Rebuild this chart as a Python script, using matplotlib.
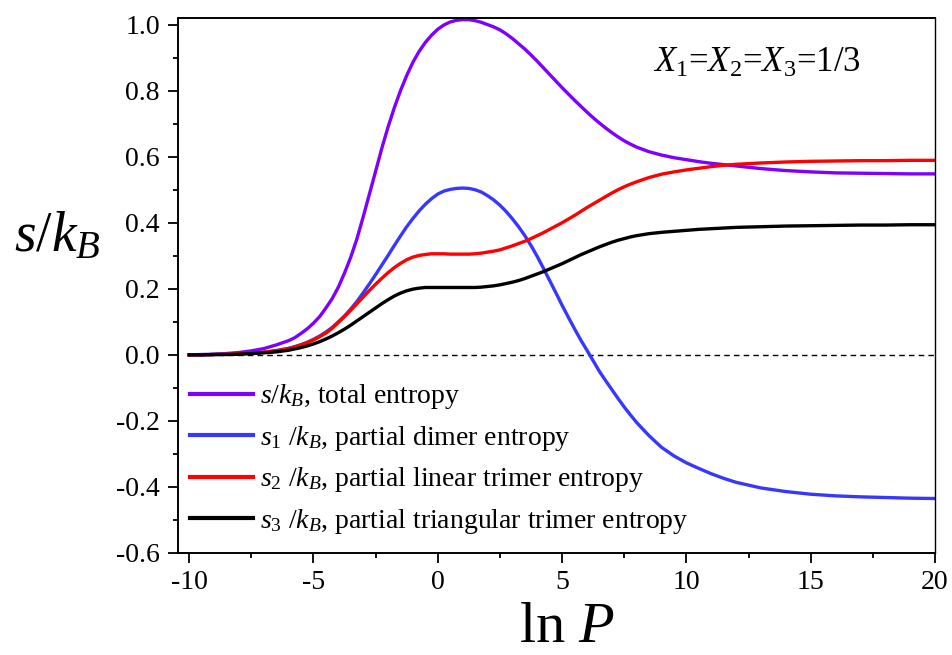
import numpy as np
import matplotlib
matplotlib.use('Agg')
import matplotlib.pyplot as plt
from matplotlib.ticker import MultipleLocator, FormatStrFormatter

plt.rcParams['font.family'] = ['Liberation Serif', 'DejaVu Serif']
plt.rcParams['mathtext.fontset'] = 'custom'
plt.rcParams['mathtext.rm'] = 'Liberation Serif'
plt.rcParams['mathtext.it'] = 'Liberation Serif:italic'
plt.rcParams['mathtext.bf'] = 'Liberation Serif:bold'
plt.rcParams['axes.unicode_minus'] = False

# ln P values the curves were read at
lnP = np.concatenate([np.arange(-10, -5.9, 0.5), np.arange(-5.75, 8.1, 0.25),
                      np.arange(8.5, 12.1, 0.5), np.arange(13, 20.1, 1.0)])

s_total = [0.000, 0.001, 0.002, 0.004, 0.007, 0.012, 0.019, 0.030, 0.043,
           0.052, 0.065, 0.079, 0.096, 0.116, 0.142, 0.170, 0.205, 0.248, 0.296, 0.352,
           0.418, 0.487, 0.556, 0.626, 0.690, 0.748, 0.800, 0.846, 0.886, 0.919, 0.946, 0.968,
           0.986, 0.999, 1.008, 1.013, 1.015, 1.015, 1.012, 1.007, 1.000, 0.993, 0.984, 0.972,
           0.958, 0.942, 0.926, 0.908, 0.889, 0.869, 0.849, 0.829, 0.809, 0.790, 0.771, 0.753,
           0.735, 0.718, 0.702, 0.687, 0.673, 0.660, 0.648, 0.638, 0.629,
           0.615, 0.605, 0.597, 0.591, 0.585, 0.580, 0.576, 0.572,
           0.564, 0.558, 0.554, 0.551, 0.550, 0.549, 0.548, 0.548]

s_dimer = [0.000, 0.000, 0.001, 0.002, 0.003, 0.005, 0.008, 0.013, 0.020,
           0.025, 0.031, 0.038, 0.047, 0.057, 0.069, 0.083, 0.100, 0.118, 0.139, 0.162,
           0.188, 0.215, 0.243, 0.272, 0.301, 0.331, 0.360, 0.388, 0.413, 0.436, 0.456, 0.473,
           0.487, 0.496, 0.501, 0.504, 0.505, 0.504, 0.500, 0.493, 0.482, 0.469, 0.453, 0.434,
           0.412, 0.388, 0.361, 0.331, 0.298, 0.262, 0.225, 0.188, 0.150, 0.114, 0.079, 0.045,
           0.014, -0.018, -0.050, -0.078, -0.105, -0.132, -0.158, -0.182, -0.205,
           -0.245, -0.280, -0.306, -0.327, -0.344, -0.360, -0.374, -0.386,
           -0.403, -0.414, -0.422, -0.427, -0.430, -0.432, -0.434, -0.435]

s_linear = [0.000, 0.000, 0.001, 0.002, 0.003, 0.005, 0.008, 0.012, 0.019,
            0.024, 0.030, 0.037, 0.045, 0.055, 0.066, 0.080, 0.098, 0.116, 0.135, 0.155,
            0.175, 0.195, 0.214, 0.232, 0.249, 0.264, 0.277, 0.288, 0.296, 0.301, 0.304, 0.306,
            0.306, 0.306, 0.305, 0.305, 0.305, 0.305, 0.306, 0.308, 0.311, 0.314, 0.318, 0.324,
            0.330, 0.337, 0.344, 0.352, 0.361, 0.370, 0.380, 0.390, 0.400, 0.411, 0.422, 0.434,
            0.446, 0.457, 0.468, 0.479, 0.490, 0.500, 0.509, 0.517, 0.524,
            0.537, 0.547, 0.554, 0.560, 0.565, 0.570, 0.574, 0.577,
            0.581, 0.584, 0.586, 0.587, 0.588, 0.588, 0.589, 0.589]

s_triang = [0.000, 0.000, 0.001, 0.001, 0.002, 0.004, 0.006, 0.009, 0.014,
            0.018, 0.022, 0.027, 0.033, 0.040, 0.048, 0.057, 0.067, 0.078, 0.090, 0.103,
            0.116, 0.129, 0.142, 0.155, 0.167, 0.178, 0.187, 0.194, 0.199, 0.202, 0.204, 0.204,
            0.204, 0.204, 0.204, 0.204, 0.204, 0.204, 0.204, 0.205, 0.207, 0.209, 0.212, 0.216,
            0.220, 0.225, 0.231, 0.238, 0.245, 0.252, 0.260, 0.268, 0.276, 0.285, 0.294, 0.303,
            0.311, 0.319, 0.327, 0.334, 0.341, 0.347, 0.352, 0.357, 0.361,
            0.367, 0.371, 0.374, 0.377, 0.380, 0.382, 0.384, 0.386,
            0.388, 0.390, 0.391, 0.392, 0.393, 0.393, 0.394, 0.394]

labels = [r'$s/k_B$, total entropy',
          r'$s_1$ /$k_B$, partial dimer entropy',
          r'$s_2$ /$k_B$, partial linear trimer entropy',
          r'$s_3$ /$k_B$, partial triangular trimer entropy']
colors = ['#7F00FF', '#3737FF', '#FF0000', '#000000']

fig = plt.figure(figsize=(9.52, 6.55), dpi=100)
ax = fig.add_axes([178/952, 1 - 553/655, 757/952, 535/655])

ax.axhline(0, xmin=0.45/30.45, xmax=1, color='black', lw=1.0, ls=(0, (4, 3)))
for ys, c, lab in zip([s_total, s_dimer, s_linear, s_triang], colors, labels):
    ax.plot(lnP, ys, color=c, lw=2.4, label=lab)

ax.set_xlim(-10.45, 20)
ax.set_ylim(-0.6, 1.02)
ax.xaxis.set_major_locator(MultipleLocator(5))
ax.xaxis.set_minor_locator(MultipleLocator(2.5))
ax.yaxis.set_major_locator(MultipleLocator(0.2))
ax.yaxis.set_minor_locator(MultipleLocator(0.1))
ax.yaxis.set_major_formatter(FormatStrFormatter('%.1f'))
ax.tick_params(which='both', direction='out', top=False, right=False, width=1.3, labelsize=20)
ax.tick_params(which='major', length=7)
ax.tick_params(which='minor', length=3.5)
ax.tick_params(axis='x', pad=5)
ax.tick_params(axis='y', pad=6)
for side in ['left', 'bottom', 'top']:
    ax.spines[side].set_linewidth(1.4)
ax.spines['right'].set_linewidth(1.0)

ax.set_xlabel(r'ln $P$', fontsize=42, va='bottom')
ax.xaxis.set_label_coords(0.514, -0.189)
ax.set_ylabel(r'$s/k_B$', fontsize=40, rotation=0, va='center', ha='center')
ax.yaxis.set_label_coords(-0.159, 0.59)

ax.text(0.627, 0.899, r'$X_1$=$X_2$=$X_3$=1/3', transform=ax.transAxes, fontsize=25,
        va='baseline', ha='left')

leg = ax.legend(loc='upper left', bbox_to_anchor=(0.016, 0.319), frameon=False,
                fontsize=20, handlelength=2.25, handletextpad=0.25, labelspacing=0.45,
                borderpad=0, borderaxespad=0)
for h in leg.get_lines():
    h.set_linewidth(3.0)

fig.savefig('out.png', dpi=100)
